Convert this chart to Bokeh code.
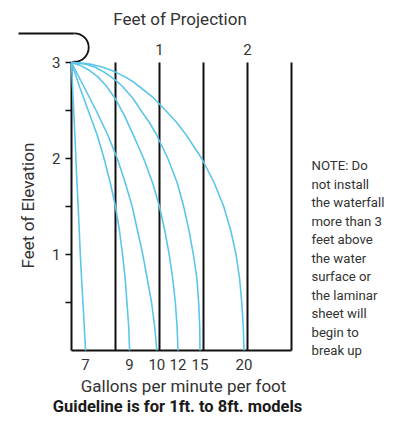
import math
from bokeh.plotting import figure
from bokeh.models import Range1d
from bokeh.core.properties import value
from bokeh.embed import file_html
from bokeh.resources import INLINE

# ---- data ----
gpm_labels = ["7", "9", "10", "12", "15", "20"]

# sheet profiles: projection (ft) vs elevation (ft)
elev_7 = [3.0, 2.75, 2.5, 2.25, 2.0, 1.75, 1.5, 1.25, 1.0, 0.75, 0.5, 0.25, 0.0]
proj_7 = [0.0, 0.012, 0.025, 0.038, 0.05, 0.062, 0.076, 0.088, 0.10, 0.115, 0.13, 0.145, 0.16]

elev_9 = [3.0, 2.75, 2.5, 2.25, 2.0, 1.75, 1.5, 1.25, 1.0, 0.75, 0.5, 0.25, 0.0]
proj_9 = [0.0, 0.09, 0.19, 0.29, 0.37, 0.44, 0.50, 0.545, 0.58, 0.61, 0.63, 0.65, 0.66]

elev_10 = [3.0, 2.75, 2.5, 2.25, 2.0, 1.75, 1.5, 1.25, 1.0, 0.75, 0.5, 0.25, 0.0]
proj_10 = [0.0, 0.14, 0.28, 0.41, 0.52, 0.61, 0.69, 0.75, 0.81, 0.86, 0.91, 0.945, 0.97]

elev_12 = [3.0, 2.97, 2.92, 2.85, 2.75, 2.62, 2.45, 2.27, 2.0, 1.75, 1.5, 1.25, 1.0, 0.75, 0.5, 0.25, 0.0]
proj_12 = [0.0, 0.10, 0.20, 0.30, 0.40, 0.50, 0.60, 0.69, 0.82, 0.92, 1.00, 1.06, 1.11, 1.15, 1.18, 1.20, 1.21]

elev_15 = [3.0, 2.995, 2.98, 2.95, 2.9, 2.85, 2.8, 2.75, 2.625, 2.5, 2.375, 2.25, 2.0, 1.75, 1.5, 1.25, 1.0, 0.75, 0.5, 0.25, 0.0]
proj_15 = [0.0, 0.08, 0.17, 0.27, 0.37, 0.45, 0.52, 0.58, 0.70, 0.79, 0.885, 0.965, 1.095, 1.20, 1.275, 1.335, 1.385, 1.425, 1.445, 1.457, 1.46]

elev_20 = [3.0, 2.995, 2.98, 2.95, 2.9, 2.85, 2.8, 2.75, 2.625, 2.5, 2.375, 2.25, 2.0, 1.75, 1.5, 1.25, 1.0, 0.75, 0.5, 0.25, 0.0]
proj_20 = [0.0, 0.11, 0.23, 0.36, 0.50, 0.61, 0.70, 0.77, 0.94, 1.07, 1.195, 1.30, 1.48, 1.62, 1.73, 1.81, 1.87, 1.91, 1.935, 1.952, 1.96]

profiles = [(proj_7, elev_7), (proj_9, elev_9), (proj_10, elev_10),
            (proj_12, elev_12), (proj_15, elev_15), (proj_20, elev_20)]

proj_gridlines = [0.5, 1.0, 1.5, 2.0, 2.5]
proj_tick_labels = ["1", "2"]
proj_tick_values = [1.0, 2.0]
elev_ticks = [0.5, 1.0, 1.5, 2.0, 2.5, 3.0]
elev_tick_labels = ["1", "2", "3"]
elev_tick_values = [1.0, 2.0, 3.0]

note_lines = ["NOTE:  Do", "not install", "the waterfall", "more than 3",
              "feet above", "the water", "surface or", "the laminar",
              "sheet will", "begin to", "break up"]

FONT = value("Roboto")
TXT = "#333333"
BLUE = "#5BC6EA"
INK = "#111111"

p = figure(width=398, height=416, output_backend="svg", toolbar_location=None,
           x_axis_location=None, y_axis_location=None,
           x_range=Range1d(-0.8068, 3.7159), y_range=Range1d(-0.6875, 3.6458),
           min_border=0)
p.grid.visible = False
p.outline_line_color = None
p.background_fill_color = "white"

top = max(elev_ticks)
xmax = max(proj_gridlines)

# vertical projection lines
p.segment(x0=proj_gridlines, y0=[0] * len(proj_gridlines), x1=proj_gridlines,
          y1=[top] * len(proj_gridlines), line_color=INK, line_width=2)
# axes
p.segment(x0=[0, 0], y0=[0, 0], x1=[0, xmax], y1=[top, 0],
          line_color=INK, line_width=2)
# elevation ticks
tick_len = 0.068
p.segment(x0=[-tick_len] * len(elev_ticks), y0=elev_ticks, x1=[0] * len(elev_ticks),
          y1=elev_ticks, line_color=INK, line_width=1.6)

# hook (waterfall lip)
hx, hy = 0.034, 3.156
p.line(x=[-0.602, hx], y=[3.302, 3.302], line_color=INK, line_width=1.8)
p.arc(x=[hx], y=[hy], radius=14.2, radius_units="screen",
      start_angle=-math.pi / 2, end_angle=math.pi / 2, direction="anticlock",
      line_color=INK, line_width=1.8)
p.line(x=[hx, 0], y=[3.008, 3.0], line_color=INK, line_width=1.8)

# sheet curves
for px_, py_ in profiles:
    p.line(x=px_, y=py_, line_color=BLUE, line_width=1.6, line_join="round")

# gpm labels at landing points
ends = [pr[0][-1] for pr in profiles]
p.text(x=ends, y=[-0.146] * len(ends), text=gpm_labels, text_font=FONT,
       text_font_size="15px", text_color=TXT, text_align="center",
       text_baseline="middle")

# projection labels on top
p.text(x=proj_tick_values, y=[3.135] * 2, text=proj_tick_labels, text_font=FONT,
       text_font_size="15px", text_color=TXT, text_align="center",
       text_baseline="middle")
# elevation labels
p.text(x=[-0.125] * 3, y=elev_tick_values, text=elev_tick_labels, text_font=FONT,
       text_font_size="15px", text_color=TXT, text_align="right",
       text_baseline="middle")

# titles
p.text(x=[1.233], y=[3.448], text=["Feet of Projection"], text_font=FONT,
       text_font_size="17px", text_color=TXT, text_align="center",
       text_baseline="middle")
p.text(x=[1.273], y=[-0.37], text=["Gallons per minute per foot"], text_font=FONT,
       text_font_size="17px", text_color=TXT, text_align="center",
       text_baseline="middle")
p.text(x=[-0.489], y=[1.51], text=["Feet of Elevation"], text_font=FONT,
       text_font_size="17px", text_color=TXT, text_align="center",
       text_baseline="middle", angle=math.pi / 2)
p.text(x=[1.205], y=[-0.583], text=["Guideline is for 1ft. to 8ft. models"],
       text_font=FONT, text_font_size="16.5px", text_font_style="bold",
       text_color="#1a1a1a", text_align="center", text_baseline="middle")

# note
note_y = [1.927 - i * 0.193 for i in range(len(note_lines))]
p.text(x=[2.727] * len(note_lines), y=note_y, text=note_lines, text_font=FONT,
       text_font_size="13.2px", text_color=TXT, text_align="left",
       text_baseline="middle")

open("out.html", "w").write(file_html(p, INLINE))
